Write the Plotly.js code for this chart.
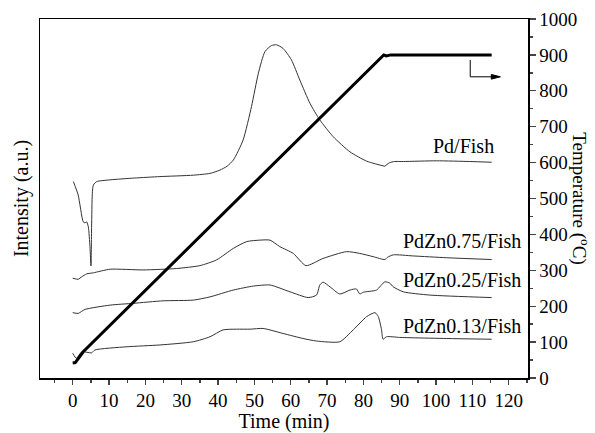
<!DOCTYPE html>
<html>
<head>
<meta charset="utf-8">
<script src="https://cdn.plot.ly/plotly-3.0.1.min.js"></script>
<style>html,body{margin:0;padding:0;background:#fff;}#chart{width:595px;height:433px;}</style>
</head>
<body>
<div id="chart"></div>
<script>
// Temperature program (right axis, °C)
const tempTime = [0, 0.7, 1.6, 2.9, 85.6, 86.3, 87.5, 115.3];
const tempValue = [42, 43, 55, 73, 900, 897, 900, 900];

// Intensity curves (arbitrary units, drawn on the same 0-1000 scale)
const pdTime = [0.2, 1.5, 2.9, 3.4, 3.85, 4.3, 4.75, 5.03, 5.2, 5.4, 5.7, 6.6, 10.3, 17, 24, 33.2, 37.8, 40.5, 42.5, 44.2, 46.9, 49.2, 51.1, 52.9, 54.7, 56.1, 57.9, 60.2, 62.5, 65.3, 68, 71.7, 76.3, 80.9, 85.4, 85.9, 86.5, 87.3, 88.5, 91, 100.1, 109.3, 115.3];
const pdValue = [547, 510, 435, 432, 435, 421, 366, 312, 420, 514, 538, 547, 552, 557, 561, 565, 570, 579, 590, 607, 663, 756, 849, 909, 926, 928, 918, 886, 830, 765, 719, 672, 630, 604, 591, 590, 595, 600, 603, 603, 605, 603, 601];

const zn075Time = [0, 1.5, 2.5, 3.85, 5.7, 10.3, 19.4, 28.6, 35, 39.6, 44.2, 47.9, 51.5, 54.3, 57, 60.7, 64.2, 68.9, 75.4, 79, 82.7, 85.9, 86.6, 88.2, 93.7, 102.9, 115.3];
const zn075Value = [278, 275, 282, 290, 293, 303, 301, 305, 313, 329, 361, 380, 384, 384, 366, 347, 313, 333, 352, 347, 338, 330, 336, 343, 340, 335, 330];

const zn025Time = [0, 1.5, 3.4, 10.3, 16.7, 24.9, 33.2, 37.8, 44.2, 49.7, 54.3, 59.8, 64.8, 67.1, 68, 68.9, 70.8, 73.5, 76.3, 78.1, 79, 80, 83.6, 85.9, 87.3, 88.2, 91, 98.3, 115.3];
const zn025Value = [182, 180, 191, 203, 208, 215, 217, 226, 245, 256, 259, 240, 224, 231, 259, 267, 254, 234, 245, 248, 234, 239, 245, 268, 264, 254, 240, 231, 224];

const zn013Time = [0, 1, 2.5, 5.2, 6.1, 14.9, 24, 33.2, 37.8, 41.4, 45.1, 48.8, 52.4, 57.9, 63.4, 67.1, 73.5, 77.2, 80.9, 83.2, 84.1, 85, 85.4, 86.4, 90, 93.7, 102.9, 115.3];
const zn013Value = [69, 55, 73, 70, 78, 87, 92, 101, 115, 134, 136, 136, 138, 124, 110, 103, 101, 134, 171, 182, 171, 134, 108, 115, 113, 112, 110, 108];

const seriesNames = ["Pd/Fish", "PdZn0.75/Fish", "PdZn0.25/Fish", "PdZn0.13/Fish"];
const labelX = [116.6, 123.9, 123.9, 123.9];
const labelY = [646, 383, 272, 146];

const xTickVals = [0, 10, 20, 30, 40, 50, 60, 70, 80, 90, 100, 110, 120];
const yTickVals = [0, 100, 200, 300, 400, 500, 600, 700, 800, 900, 1000];

const serif = "Liberation Serif, Times New Roman, serif";
const curveStyle = {color: "#333333", width: 1, shape: "spline", smoothing: 0.6};

const traces = [
  {x: pdTime, y: pdValue, mode: "lines", line: curveStyle, name: seriesNames[0], yaxis: "y"},
  {x: zn075Time, y: zn075Value, mode: "lines", line: curveStyle, name: seriesNames[1], yaxis: "y"},
  {x: zn025Time, y: zn025Value, mode: "lines", line: curveStyle, name: seriesNames[2], yaxis: "y"},
  {x: zn013Time, y: zn013Value, mode: "lines", line: curveStyle, name: seriesNames[3], yaxis: "y"},
  {x: tempTime, y: tempValue, mode: "lines", line: {color: "#000", width: 3}, name: "Temperature", yaxis: "y2"}
];

const annotations = seriesNames.map((n, i) => ({
  x: labelX[i], y: labelY[i], xref: "x", yref: "y", text: n, showarrow: false,
  xanchor: "right", yanchor: "middle", font: {family: serif, size: 20, color: "#000"}
}));
annotations.push({
  x: 1.107, y: 0.5, xref: "paper", yref: "paper", text: "Temperature (<sup>o</sup>C)",
  textangle: 90, showarrow: false, xanchor: "center", yanchor: "middle",
  font: {family: serif, size: 19, color: "#000"}
});

const layout = {
  width: 595, height: 433,
  margin: {l: 40, r: 67, t: 19, b: 55},
  paper_bgcolor: "#fff", plot_bgcolor: "#fff",
  showlegend: false,
  font: {family: serif, size: 19, color: "#000"},
  xaxis: {
    range: [-9, 125.3], tickvals: xTickVals, ticks: "outside", ticklen: 5, tickwidth: 1.3,
    minor: {dtick: 5, tick0: 0, ticks: "outside", ticklen: 3, tickwidth: 1.3, showgrid: false},
    showline: true, linewidth: 1.5, linecolor: "#000", mirror: true,
    showgrid: false, zeroline: false, tickfont: {family: serif, size: 19},
    title: {text: "Time (min)", font: {family: serif, size: 20}, standoff: 5},
    automargin: false
  },
  yaxis: {
    range: [0, 1000], showticklabels: false, ticks: "", showline: true, linewidth: 1.5,
    linecolor: "#000", showgrid: false, zeroline: false,
    title: {text: "Intensity (a.u.)", font: {family: serif, size: 20}, standoff: 4},
    automargin: false
  },
  yaxis2: {
    range: [0, 1000], overlaying: "y", side: "right", tickvals: yTickVals,
    ticks: "outside", ticklen: 6, tickwidth: 1.3,
    minor: {dtick: 50, tick0: 0, ticks: "outside", ticklen: 3, tickwidth: 1.3, showgrid: false},
    showline: true, linewidth: 1.5, linecolor: "#000", showgrid: false, zeroline: false,
    tickfont: {family: serif, size: 19}, automargin: false
  },
  shapes: [
    {type: "line", xref: "x", yref: "y2", x0: 109.4, x1: 109.4, y0: 886, y1: 839,
     line: {color: "#000", width: 1}},
    {type: "line", xref: "x", yref: "y2", x0: 109.4, x1: 116, y0: 839, y1: 839,
     line: {color: "#000", width: 1}},
    {type: "path", xref: "x", yref: "y2", path: "M 115.2 832.5 L 117.7 839 L 115.2 845.5 Z",
     fillcolor: "#000", line: {color: "#000", width: 1}}
  ],
  annotations: annotations
};

Plotly.newPlot("chart", traces, layout, {displayModeBar: false, staticPlot: true});
</script>
</body>
</html>
